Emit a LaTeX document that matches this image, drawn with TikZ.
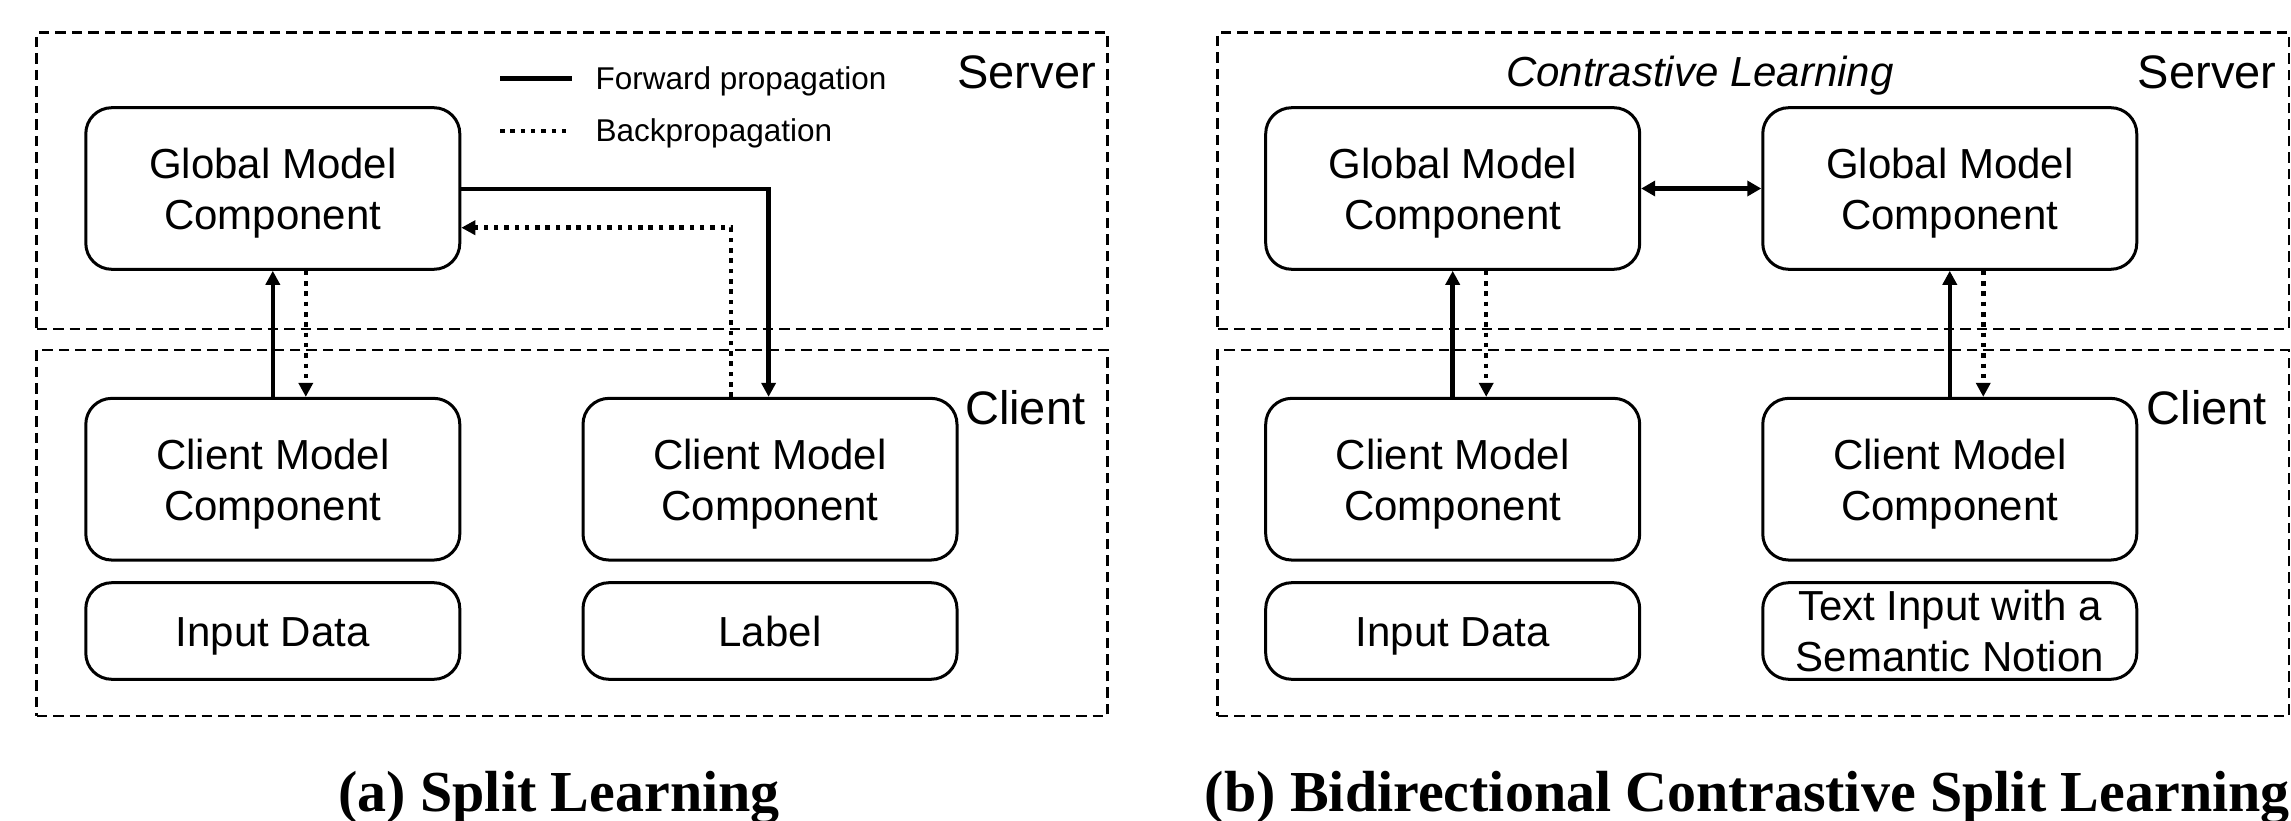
\documentclass[tikz,border=0pt]{standalone}
\usepackage{fontspec}
\setmainfont{Liberation Serif}
\newfontfamily\lsans{Liberation Sans}
\usetikzlibrary{arrows.meta}
\begin{document}
\begin{tikzpicture}[x=1pt,y=-1pt,
  region/.style={draw, line width=2.5pt, dash pattern=on 10.5pt off 6pt, inner sep=0pt},
  blk/.style={draw, line width=3pt, rounded corners=26pt, minimum width=374pt, align=center, inner sep=0pt,
     text height=31pt, text depth=0.4pt, font=\lsans\fontsize{42}{51}\selectfont},
  twoline/.style={text height=82pt},
  tip/.style={-{Triangle[length=14pt,width=14pt]}},
  fwd/.style={line width=4.5pt, tip},
  back/.style={line width=4.5pt, dash pattern=on 4.5pt off 5.8pt, tip},
  lbl/.style={inner sep=0pt, font=\lsans\fontsize{47}{56}\selectfont},
  leg/.style={inner sep=0pt, font=\lsans\fontsize{31.5}{38}\selectfont},
  captext/.style={inner sep=0pt, font=\bfseries\fontsize{58}{68}\selectfont}]
\useasboundingbox (0,0) rectangle (2291,821);

% ---------- (a) ----------
\node[region, minimum width=1070.8pt, minimum height=296.3pt] (sA) at (572.1,180.85) {};
\node[region, minimum width=1070.8pt, minimum height=366pt] (kA) at (572.1,533) {};
\node[lbl, anchor=base east] (srvA) at (1096,89) {Server};
\node[lbl, anchor=base east] (cliA) at (1085.5,424) {Client};

\coordinate (l1a) at (500,78.3); \coordinate (l1b) at (572,78.3);
\coordinate (l2a) at (500,131); \coordinate (l2b) at (572,131);
\draw[line width=4.5pt] (l1a) -- (l1b);
\draw[line width=4.5pt, dash pattern=on 4.5pt off 5.8pt] (l2a) -- (l2b);
\node[leg, anchor=base west] (legF) at (595.5,89.3) {Forward propagation};
\node[leg, anchor=base west] (legB) at (595.5,141.7) {Backpropagation};

\node[blk, twoline, minimum height=161.6pt] (gA) at (272.8,188.5) {Global Model\\Component};
\node[blk, twoline, minimum height=161.7pt] (cA1) at (272.8,479.2) {Client Model\\Component};
\node[blk, twoline, minimum height=161.7pt] (cA2) at (770,479.2) {Client Model\\Component};
\node[blk, minimum height=96.6pt] (inA) at (272.8,631) {Input Data};
\node[blk, minimum height=96.6pt] (lbA) at (770,631) {Label};

\draw[fwd] (cA1.north) -- (gA.south);
\draw[back] ([xshift=33pt]gA.south) -- ([xshift=33pt]cA1.north);
\coordinate (fw) at (768.6,189);
\draw[fwd] (gA.east |- fw) -| (fw |- cA2.north);
\coordinate (bk) at (731,227.7);
\draw[back] (bk |- cA2.north) |- (gA.east |- bk);

\node[captext, anchor=base] (capA) at (559,811.7) {(a) Split Learning};

% ---------- (b) ----------
\node[region, minimum width=1071.3pt, minimum height=296.3pt] (sB) at (1753.35,180.85) {};
\node[region, minimum width=1071.3pt, minimum height=366pt] (kB) at (1753.35,533) {};
\node[lbl, anchor=base east] (srvB) at (2276.6,89) {Server};
\node[lbl, anchor=base east] (cliB) at (2267,424) {Client};
\node[inner sep=0pt, anchor=base, font=\lsans\itshape\fontsize{42}{50}\selectfont] (cl) at (1700,86.7) {Contrastive Learning};

\node[blk, twoline, minimum height=161.6pt] (gB1) at (1452.7,188.5) {Global Model\\Component};
\node[blk, twoline, minimum height=161.6pt] (gB2) at (1949.75,188.5) {Global Model\\Component};
\node[blk, twoline, minimum height=161.7pt] (cB1) at (1452.7,479.2) {Client Model\\Component};
\node[blk, twoline, minimum height=161.7pt] (cB2) at (1949.75,479.2) {Client Model\\Component};
\node[blk, minimum height=96.6pt] (inB) at (1452.7,631) {Input Data};
\node[blk, twoline, minimum height=96.6pt] (txB) at (1949.75,631) {Text Input with a\\Semantic Notion};

\draw[line width=4.5pt, {Triangle[length=14pt,width=15pt]}-{Triangle[length=14pt,width=15pt]}] (gB1.east) -- (gB2.west);
\draw[fwd] (cB1.north) -- (gB1.south);
\draw[back] ([xshift=33.5pt]gB1.south) -- ([xshift=33.5pt]cB1.north);
\draw[fwd] (cB2.north) -- (gB2.south);
\draw[back] ([xshift=33.5pt]gB2.south) -- ([xshift=33.5pt]cB2.north);

\node[captext, anchor=base west] (capB) at (1204.6,811.7) {(b) Bidirectional Contrastive Split Learning};
\end{tikzpicture}
\end{document}
